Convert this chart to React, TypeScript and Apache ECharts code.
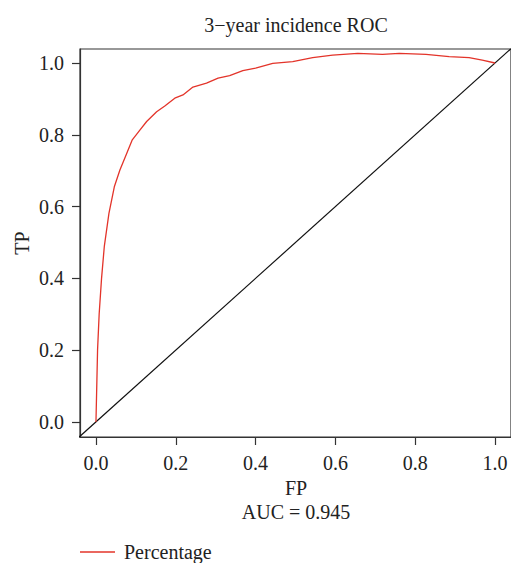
import React, { useEffect, useRef } from "react";
import * as echarts from "echarts";

const FPR = [0, 0.002, 0.004, 0.008, 0.014, 0.021, 0.0325, 0.046, 0.06, 0.077, 0.091, 0.11, 0.127, 0.152, 0.1725, 0.1975, 0.218, 0.243, 0.277, 0.306, 0.335, 0.368, 0.4, 0.443, 0.493, 0.543, 0.593, 0.656, 0.718, 0.76, 0.827, 0.885, 0.935, 0.968, 1.0];
const TPR = [0, 0.1, 0.2, 0.3, 0.4, 0.49, 0.581, 0.655, 0.702, 0.748, 0.786, 0.813, 0.837, 0.864, 0.88, 0.902, 0.911, 0.933, 0.944, 0.958, 0.965, 0.979, 0.986, 0.999, 1.004, 1.015, 1.022, 1.027, 1.024, 1.027, 1.024, 1.018, 1.015, 1.008, 1.0];
const DIAG = [-0.1, 1.1];
const TICKS = [0, 0.2, 0.4, 0.6, 0.8, 1.0];
const TITLE = "3\u2212year incidence ROC";
const X_NAME = "FP";
const Y_NAME = "TP";
const AUC_TEXT = "AUC = 0.945";
const SERIES_NAME = "Percentage";

const FONT = "'Liberation Serif', 'DejaVu Serif', serif";

export default function App() {
  const ref = useRef<HTMLDivElement>(null);
  useEffect(() => {
    if (!ref.current) return;
    const chart = echarts.init(ref.current, undefined, { renderer: "svg" });
    const fs = 20;
    const txt = (text: string, x: number, y: number, rotation = 0) => ({
      type: "text",
      x,
      y,
      rotation,
      style: { text, fontFamily: FONT, fontSize: fs, fill: "#222", textAlign: "center", textVerticalAlign: "middle" },
    });
    const axisCommon = {
      type: "value",
      splitLine: { show: false },
      axisLine: { show: true, onZero: false, lineStyle: { color: "#333", width: 1.2 } },
      axisTick: { show: true, inside: false, customValues: TICKS, length: 8, lineStyle: { color: "#333", width: 1.2 } },
      axisLabel: {
        show: true,
        customValues: TICKS,
        formatter: (v: number) => v.toFixed(1),
        fontFamily: FONT,
        fontSize: fs,
        color: "#222",
        margin: 16,
      },
    };
    chart.setOption({
      animation: false,
      textStyle: { fontFamily: FONT },
      grid: {
        left: 80,
        top: 49,
        width: 432,
        height: 388,
        show: true,
        borderColor: "#333",
        borderWidth: 1.2,
      },
      xAxis: { ...axisCommon, min: -0.04, max: 1.04 },
      yAxis: { ...axisCommon, min: -0.042, max: 1.039 },
      legend: {
        data: [SERIES_NAME],
        left: 80,
        top: 542,
        padding: 0,
        icon: "rect",
        itemWidth: 35,
        itemHeight: 1.3,
        textStyle: { fontFamily: FONT, fontSize: fs, color: "#222", padding: [0, 0, 0, 4] },
      },
      graphic: [
        txt(TITLE, 296, 25),
        txt(X_NAME, 296, 488),
        txt(Y_NAME, 22, 243, Math.PI / 2),
        txt(AUC_TEXT, 296, 512),
      ],
      series: [
        {
          type: "line",
          data: DIAG.map((v) => [v, v]),
          symbol: "none",
          clip: true,
          silent: true,
          lineStyle: { color: "#111", width: 1.2 },
        },
        {
          name: SERIES_NAME,
          type: "line",
          data: FPR.map((x, i) => [x, TPR[i]]),
          symbol: "none",
          clip: false,
          lineStyle: { color: "#e3342a", width: 1.3 },
          itemStyle: { color: "#e3342a" },
        },
      ],
    });
    return () => chart.dispose();
  }, []);
  return (
    <div
      ref={ref}
      style={{ position: "fixed", left: 0, top: 0, width: 511, height: 563, background: "#fff" }}
    />
  );
}
